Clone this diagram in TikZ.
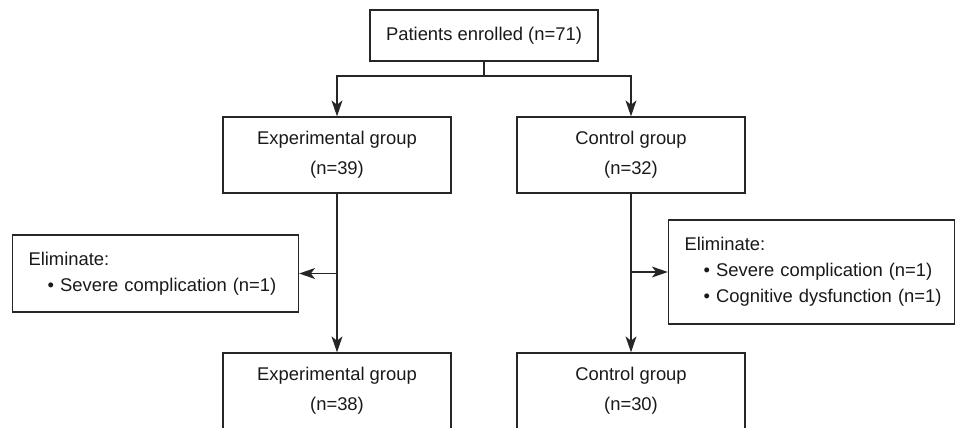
\documentclass[tikz,border=0pt]{standalone}
\usepackage{fontspec}
\setmainfont{Liberation Sans}
\usetikzlibrary{arrows.meta}

\begin{document}
\begin{tikzpicture}[x=0.5pt,y=-0.5pt,
    box/.style={draw=black!85, line width=0.65pt, align=center, minimum width=114pt,
      minimum height=38pt, inner sep=2pt, font=\fontsize{9.2}{15}\selectfont, text=black!90},
    elimbox/.style={draw=black!85, line width=0.65pt, align=left, text width=127pt,
      inner xsep=8pt, font=\fontsize{9.2}{13}\selectfont, text=black!90},
    link/.style={draw=black!85, line width=0.65pt},
    arr/.style={link, -{Stealth[length=8pt,width=5.5pt,inset=2.2pt]}}]
  \useasboundingbox (0,0) rectangle (959,428);

  \node[box, minimum height=25.5pt] (enrolled) at (484,35.5) {Patients enrolled (n=71)};
  \node[box] (expA) at (337,155) {Experimental group\\(n=39)};
  \node[box] (ctrlA) at (631,155) {Control group\\(n=32)};
  \node[elimbox, minimum height=38.5pt] (elimA) at (155.5,273.5)
    {Eliminate:\\\mbox{\hspace*{9.5pt}\textbullet\ Severe complication (n=1)}};
  \node[elimbox, minimum height=52pt] (elimB) at (811.5,272)
    {Eliminate:\\\mbox{\hspace*{9.5pt}\textbullet\ Severe complication (n=1)}\\
     \mbox{\hspace*{9.5pt}\textbullet\ Cognitive dysfunction (n=1)}};
  \node[box] (expB) at (337,391) {Experimental group\\(n=38)};
  \node[box] (ctrlB) at (631,391) {Control group\\(n=30)};

  \coordinate (split) at (484,76);
  \draw[link] (enrolled.south) -- (split);
  \draw[arr] (split) -| (expA.north);
  \draw[arr] (split) -| (ctrlA.north);
  \draw[arr] (expA.south) -- (expB.north);
  \draw[arr] (expA.south |- elimA.east) -- (elimA.east);
  \draw[arr] (ctrlA.south) -- (ctrlB.north);
  \draw[arr] (ctrlA.south |- elimB.west) -- (elimB.west);
\end{tikzpicture}
\end{document}
